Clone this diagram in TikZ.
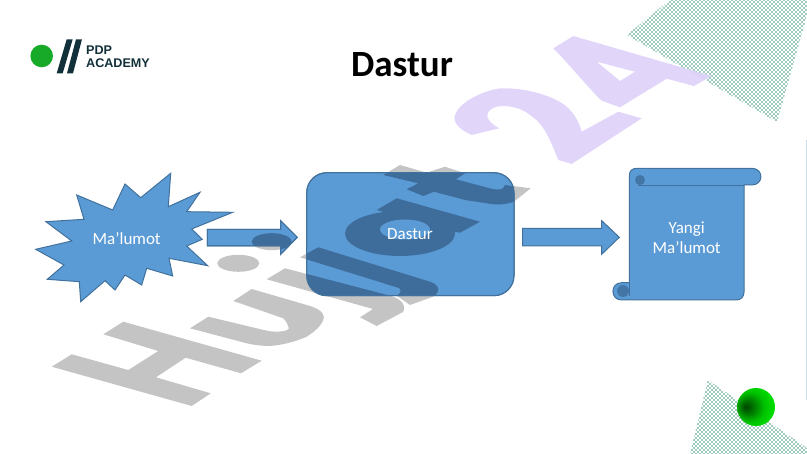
\documentclass[tikz,border=0pt]{standalone}
\usepackage{fontspec}
\setmainfont{Carlito}
\newfontfamily\logofont{Liberation Sans}
\definecolor{boxblue}{RGB}{91,155,213}
\definecolor{boxedge}{RGB}{65,113,156}
\definecolor{markgray}{RGB}{196,196,196}
\definecolor{markdark}{RGB}{62,108,155}
\definecolor{lilac}{RGB}{222,210,250}
\definecolor{dotgreen}{RGB}{60,150,120}
\definecolor{logogreen}{RGB}{22,170,40}
\definecolor{logodark}{RGB}{18,48,58}
\definecolor{edgeline}{RGB}{205,222,232}
\definecolor{sphA}{RGB}{0,70,0}
\definecolor{sphB}{RGB}{0,115,0}
\definecolor{sphC}{RGB}{0,195,0}
\definecolor{sphD}{RGB}{0,235,0}
\pgfdeclareradialshading{sphereshade}{\pgfpoint{-14bp}{0bp}}{%
 color(0bp)=(sphA); color(8bp)=(sphB); color(20bp)=(sphC); color(34bp)=(sphD); color(50bp)=(sphD)}
\newcommand{\markH}{(51.7,366.7) -- (71.7,354.3) -- (128.3,370) -- (158.3,351) -- (103.3,334.3) -- (123.3,321.7) -- (261.7,360.7) -- (241,373.3) -- (185.7,357.7) -- (156,377.3) -- (210.7,393.3) -- (191.7,406) -- cycle}
\newcommand{\markU}{(190,328.3) -- (208.3,316.7) -- (266.7,330.7) .. controls (278,333) and (292,331) .. (288.3,326.7) .. controls (287,322) and (284,319) .. (283.3,318.3) -- (233.3,301) -- (251.7,289) -- (306.7,305) .. controls (318,308) and (326,313) .. (323.3,320) .. controls (320,328) and (312,333) .. (306.7,336.7) .. controls (295,342) and (282,345) .. (270,346) .. controls (262,346) and (254,345) .. (246.7,343.3) -- cycle}
\newcommand{\markJa}{(266.7,279.3) -- (285,268.3) -- (390,295.7) .. controls (400,298) and (407,305) .. (403,312) -- (376.7,326) -- (360,317.3) -- (373,309) -- cycle}
\newcommand{\markJb}{(300,257.3) -- (318.3,247.3) -- (430,281.7) .. controls (440,285) and (441,292) .. (433,296.7) -- (410,305) -- (396.7,295.7) .. controls (402,293) and (402,288) .. (396.7,287.3) -- cycle}
\newcommand{\markDotA}{(238.3,263.3) ellipse [x radius=21,y radius=8.5]}
\newcommand{\markDotB}{(271.7,241.7) ellipse [x radius=20,y radius=8.5]}
\newcommand{\markAstem}{(376.7,210) -- (396.7,198.3) -- (480,221.7) -- (460,232.7) -- (452,231.5) -- cycle}
\newcommand{\markAbowl}{(400,233.5) ellipse [x radius=55,y radius=22.5]}
\newcommand{\markAhole}{(405,229.5) ellipse [x radius=25,y radius=10]}
\newcommand{\markT}{(383.3,175) -- (400,165) -- (426.7,172.7) -- (445,166.7) -- (465,173.3) -- (456,179.3) -- (490,188.3) .. controls (498,190) and (503,191) .. (505,185) -- (530.7,188.3) -- (514,201.7) .. controls (508,204) and (500,205) .. (493.3,204.3) -- (465,200) -- (434,191.7) -- (423.3,196) -- (406.7,189.3) -- (418.3,183.3) -- cycle}
\newcommand{\starpath}{(170.7,173.3) -- (168.3,206.7) -- (200,192.3) -- (186.7,211.7) -- (232.7,212.3) -- (191.7,229) -- (202.3,239.3) -- (186.7,246) -- (207.7,265.7) -- (169,258.3) -- (172.7,276) -- (146.7,268.3) -- (141.7,285) -- (125,275) -- (115,290) -- (105,280.7) -- (80.7,301.7) -- (79.3,281.7) -- (47.3,279.3) -- (64,265) -- (35.7,249.3) -- (71.7,241) -- (46,221.7) -- (84,219.3) -- (76.7,195) -- (112.7,210) -- (125,184) -- (140.7,197.7) -- cycle}
\newcommand{\arrowApath}{(207.3,229.3) -- (280.7,229.3) -- (280.7,220.7) -- (297.3,237.3) -- (280.7,254.3) -- (280.7,246) -- (207.3,246) -- cycle}
\newcommand{\arrowBpath}{(522.7,228.3) -- (601.7,228.3) -- (601.7,220.7) -- (619.3,237.3) -- (601.7,254.3) -- (601.7,246) -- (522.7,246) -- cycle}
\tikzset{
  blueshape/.style={fill=boxblue,draw=boxedge,line width=1pt},
  darkmark/.style={fill=markdark},
  lighttext/.style={text=white,font=\fontsize{17}{20}\selectfont,align=center,inner sep=0pt},
  oddrow/.style={dotgreen,line width=1.6pt,line cap=round,dash pattern=on 0pt off 4pt},
  evenrow/.style={dotgreen,line width=1.6pt,line cap=round,dash pattern=on 0pt off 4pt,dash phase=2pt},
}
\begin{document}
\begin{tikzpicture}[x=1pt,y=-1pt]
\useasboundingbox (0,0) rectangle (807,454);
% dotted corners
\begin{scope}
\clip (626.7,35) -- (670,0) -- (807,0) -- (807,15) -- (777,122) -- cycle;
\foreach \j in {0,...,31}{
  \draw[oddrow] (620,4*\j) -- (810,4*\j);
  \draw[evenrow] (620,2+4*\j) -- (810,2+4*\j);
}
\end{scope}
\begin{scope}
\clip (708,380) -- (807,448) -- (807,454) -- (690,454) -- cycle;
\foreach \j in {0,...,19}{
  \draw[oddrow] (688,378+4*\j) -- (810,378+4*\j);
  \draw[evenrow] (688,380+4*\j) -- (810,380+4*\j);
}
\end{scope}
\draw[edgeline,line width=1pt] (806.5,140) -- (806.5,400);
% watermark 24
\begin{scope}[opacity=.9]
\fill[lilac,even odd rule] (553.3,48.3) -- (573.3,36) -- (711.7,76) -- (694,86) -- (666.7,78.7) -- (620,107.3) -- (601.7,100.7) .. controls (590,90) and (570,65) .. cycle
  (596.7,61.7) -- (635,71.7) -- (620,81) -- cycle;
\fill[lilac] (471.7,135) .. controls (460,130) and (452,122) .. (455,115) .. controls (460,100) and (490,88) .. (503.3,88.3) .. controls (530,88) and (560,98) .. (570,110) .. controls (576,116) and (580,125) .. (581.7,131.7) -- (618.3,111.7) -- (641.7,118.3) -- (571.7,164) -- (558.3,160) .. controls (550,140) and (545,125) .. (530,115) .. controls (520,106) and (500,104) .. (493.3,108) .. controls (485,112) and (484,120) .. (499.3,128.3) -- cycle;
\end{scope}
% watermark, plain
\fill[markgray] \markH;
\fill[markgray] \markU;
\fill[markgray] \markJa;
\fill[markgray] \markJb;
\fill[markgray] \markDotA;
\fill[markgray] \markDotB;
\fill[markgray] \markT;
% blue shapes
\path[blueshape] \starpath;
\node[lighttext] (source) at (126.7,239) {Ma’lumot};
\path[blueshape] \arrowApath;
\begin{scope}\clip \arrowApath; \fill[darkmark] \markDotB; \end{scope}
\draw[boxedge,line width=1pt] \arrowApath;
\path[blueshape,rounded corners=20] (306.7,172.7) rectangle (514,295.7);
\begin{scope}
\clip[rounded corners=20] (306.7,172.7) rectangle (514,295.7);
\fill[darkmark] \markJa; \fill[darkmark] \markJb;
\fill[darkmark] \markAbowl; \fill[darkmark] \markAstem; \fill[darkmark] \markT;
\fill[boxblue] \markAhole;
\end{scope}
\draw[boxedge,line width=1pt,rounded corners=20] (306.7,172.7) rectangle (514,295.7);
\node[lighttext] (program) at (410,234) {Dastur};
\path[blueshape] \arrowBpath;
% scroll
\path[blueshape] (637,168.3) -- (751.7,168.3) .. controls (764,168.3) and (764,185) .. (751.7,185) -- (744,185) -- (744,292) .. controls (744,297) and (741,300) .. (736,300) -- (621.7,300) .. controls (610,300) and (610,282.7) .. (621.7,282.7) -- (629.3,282.7) -- (629.3,176) .. controls (629.3,171) and (632,168.3) .. (637,168.3) -- cycle;
\fill[markdark!80!boxblue] (640,180) circle (5);
\fill[markdark!80!boxblue] (623,291) circle (6);
\draw[boxedge,line width=.8pt] (638,185) -- (744,185);
\draw[boxedge,line width=.8pt] (629.3,282.7) -- (629.3,296);
\node[lighttext] (result) at (686.7,238) {Yangi\\Ma’lumot};
% title and logo
\node[inner sep=0pt,font=\fontsize{37}{40}\bfseries\selectfont,text=black] (title) at (402,65) {Dastur};
\fill[logogreen] (41.7,56) circle (11.3);
\fill[logodark] (56.7,73.3) -- (66.7,39.3) -- (72.7,39.3) -- (62.7,73.3) -- cycle;
\fill[logodark] (67,73.3) -- (76,39.3) -- (82,39.3) -- (73,73.3) -- cycle;
\node[inner sep=0pt,anchor=west,font=\logofont\fontsize{12.6}{13.5}\bfseries\selectfont,text=logodark,align=left] (logo) at (86,56.7) {PDP\\ACADEMY};
\shade[shading=sphereshade] (756,407) circle (19);
\end{tikzpicture}
\end{document}
